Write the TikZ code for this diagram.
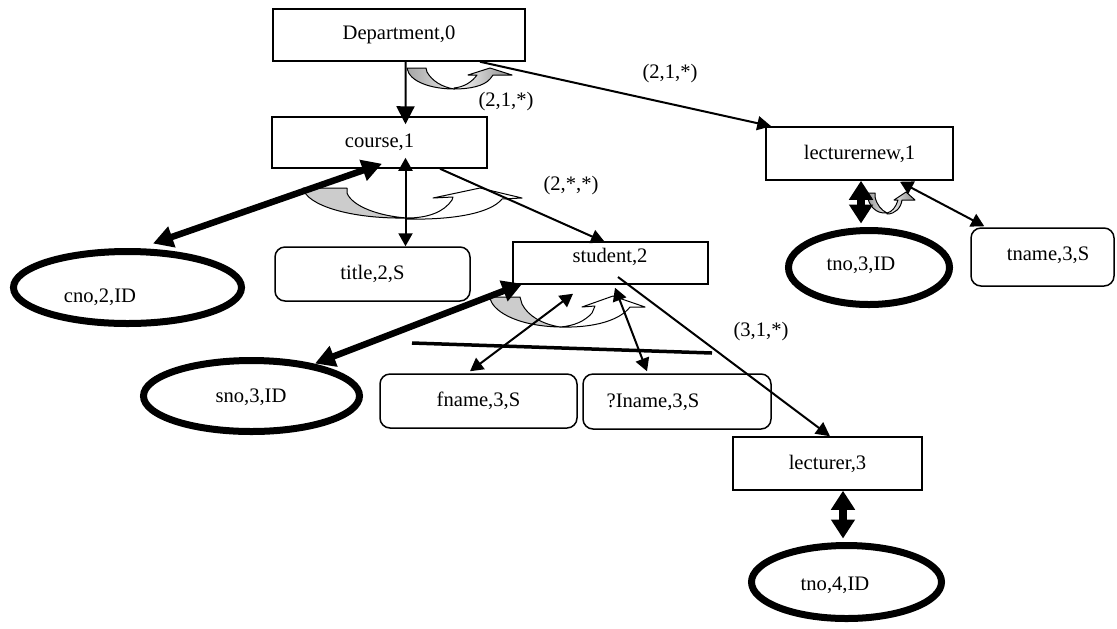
\documentclass[tikz,border=0pt]{standalone}
\usepackage{fontspec}
\setmainfont{Liberation Serif}
\usetikzlibrary{arrows.meta,shapes.geometric}
\begin{document}
\begin{tikzpicture}[x=0.5pt,y=-0.5pt,
  every node/.style={font=\fontsize{10.3}{12}\selectfont, inner sep=0pt},
  box/.style={draw, line width=0.75pt, rectangle},
  rbox/.style={box, rounded corners=5pt},
  idell/.style={draw, ellipse, line width=3.5pt},
  onearr/.style={line width=1pt, >={Triangle[length=7pt,width=7pt]}, ->},
  bigarr/.style={line width=1pt, >={Triangle[length=9pt,width=9pt]}, ->},
  twoarr/.style={line width=1pt, >={Triangle[length=6.5pt,width=7pt]}, <->},
  keyarr/.style={line width=3.25pt, >={Triangle[length=10pt,width=10.5pt]}, <->},
  keyvarr/.style={line width=4pt, >={Triangle[length=9.5pt,width=11.5pt]}, <->},
  bandline/.style={draw, line width=0.5pt, line join=round}]
\useasboundingbox (0,0) rectangle (1117,628);

% ---- entity boxes ----
\node[box, minimum width=126pt, minimum height=26pt] (dept) at (399,35) {Department,0};
\node[box, minimum width=107.5pt, minimum height=25.5pt] (course) at (379.5,142.5) {course,1};
\node[box, minimum width=93.5pt, minimum height=26.5pt] (lecnew) at (859.5,153.5) {lecturernew,1};
\node[box, minimum width=97.5pt, minimum height=21pt] (student) at (610.5,263) {};
\node (studenttext) at (610,257) {student,2};
\node[box, minimum width=94.5pt, minimum height=26.5pt] (lect) at (827.5,463.5) {lecturer,3};

% ---- attribute boxes ----
\node[rbox, minimum width=97.5pt, minimum height=27pt] (title) at (372.5,274) {title,2,S};
\node[rbox, minimum width=98.5pt, minimum height=27pt] (fname) at (478.5,401) {fname,3,S};
\node[rbox, minimum width=94pt, minimum height=27.5pt] (lname) at (677,401.5) {};
\node (lnametext) at (653,402) {?Iname,3,S};
\node[rbox, minimum width=71.5pt, minimum height=29pt] (tname) at (1042.5,257) {};
\node (tnametext) at (1048,255) {tname,3,S};

% ---- identifier ellipses ----
\node[idell, minimum width=114pt, minimum height=36pt] (cno) at (127.5,287.5) {};
\node (cnotext) at (100,297) {cno,2,ID};
\node[idell, minimum width=108pt, minimum height=35.5pt] (sno) at (251.5,396) {};
\node (snotext) at (251,397) {sno,3,ID};
\node[idell, minimum width=80.5pt, minimum height=37pt] (tnoa) at (869,267.5) {};
\node (tnoatext) at (861,265) {tno,3,ID};
\node[idell, minimum width=95pt, minimum height=36.5pt] (tnob) at (846.5,582) {};
\node (tnobtext) at (835,585) {tno,4,ID};

% ---- curved arrows (order markers) ----
\path[bandline, left color=black!35, right color=black!10]
  (407,68) -- (426,68) -- (427,72) .. controls (432,81) and (442,87) .. (454,89)
  .. controls (432,89) and (409,82) .. (407,68) -- cycle;
\path[bandline, left color=white, right color=black!45]
  (454,89) .. controls (470,89) and (484,86) .. (490,79) -- (493,75) -- (512,75)
  -- (490,68) -- (468,75) -- (477,75) .. controls (472,82) and (464,87) .. (454,88) -- cycle;

\path[bandline, fill=black!20]
  (303,188) -- (347,188) -- (347,193) .. controls (352,206) and (378,216) .. (407,218)
  .. controls (350,219) and (306,205) .. (303,188) -- cycle;
\path[bandline, fill=white]
  (407,219) .. controls (450,220) and (490,214) .. (502,199) -- (522,198) -- (480,188)
  -- (433,198) -- (453,197) -- (452,200) .. controls (444,212) and (428,218) .. (407,218) -- cycle;

\path[bandline, fill=black!20]
  (490,297) -- (520,297) -- (522,304) .. controls (528,316) and (542,324) .. (560,327)
  .. controls (515,326) and (491,310) .. (490,297) -- cycle;
\path[bandline, fill=white]
  (560,327) .. controls (595,328) and (620,320) .. (630,307) -- (645,307) -- (613,296)
  -- (582,307) -- (595,306) -- (592,313) .. controls (585,321) and (574,326) .. (560,327) -- cycle;

\path[bandline, left color=black!40, right color=black!10]
  (867,193) -- (875,193) -- (875,197) .. controls (877,205) and (881,210) .. (887,213)
  .. controls (876,214) and (868,206) .. (867,193) -- cycle;
\path[bandline, left color=white, right color=black!45]
  (887,214) .. controls (895,214) and (901,208) .. (902,200) -- (915,200) -- (906,192)
  -- (894,200) -- (898,200) .. controls (896,207) and (892,212) .. (887,213) -- cycle;

% ---- crossing bar ----
\coordinate (bar1) at (412,343);
\coordinate (bar2) at (712,353);
\draw[line width=1.75pt] (bar1) -- (bar2);

% ---- connectors ----
\draw[bigarr] ([xshift=3.3pt]dept.south) -- ([xshift=13pt,yshift=-4pt]course.north);
\draw[onearr] ([xshift=40.5pt]dept.south) -- ([xshift=3pt]lecnew.north west);
\draw[twoarr] ([xshift=13pt,yshift=5.5pt]course.south) -- ([xshift=16.5pt]title.north);
\draw[keyarr] ([xshift=12.75pt,yshift=2.25pt]cno.north) -- ([xshift=1.25pt,yshift=2.5pt]course.south);
\draw[onearr] ([xshift=30.25pt]course.south) -- ([xshift=-2.75pt,yshift=-0.5pt]student.north);
\draw[onearr] ([xshift=3.75pt,yshift=-7pt]student.center) -- ([xshift=1.25pt]lect.north);
\draw[keyarr] ([xshift=31.75pt,yshift=-3.25pt]sno.north) -- ([xshift=5pt,yshift=0.5pt]student.south west);
\draw[twoarr] ([xshift=-4.25pt,yshift=1pt]fname.north) -- ([xshift=-18.75pt,yshift=-4.5pt]student.south);
\draw[twoarr] ([xshift=-15pt,yshift=1pt]lname.north) -- ([xshift=2.25pt,yshift=-1.5pt]student.south);
\draw[keyvarr] ([xshift=0.75pt]lecnew.south) -- ([xshift=-4pt,yshift=1.75pt]tnoa.north);
\draw[twoarr] ([xshift=20.25pt,yshift=-0.5pt]lecnew.south) -- ([xshift=7pt,yshift=0.5pt]tname.north west);
\draw[keyvarr] ([xshift=7.75pt]lect.south) -- ([xshift=-1.75pt,yshift=1.75pt]tnob.north);

% ---- edge labels ----
\node (lab1) at (506,102) {(2,1,*)};
\node (lab2) at (670,74) {(2,1,*)};
\node (lab3) at (571,186) {(2,*,*)};
\node (lab4) at (761,332) {(3,1,*)};
\end{tikzpicture}
\end{document}
